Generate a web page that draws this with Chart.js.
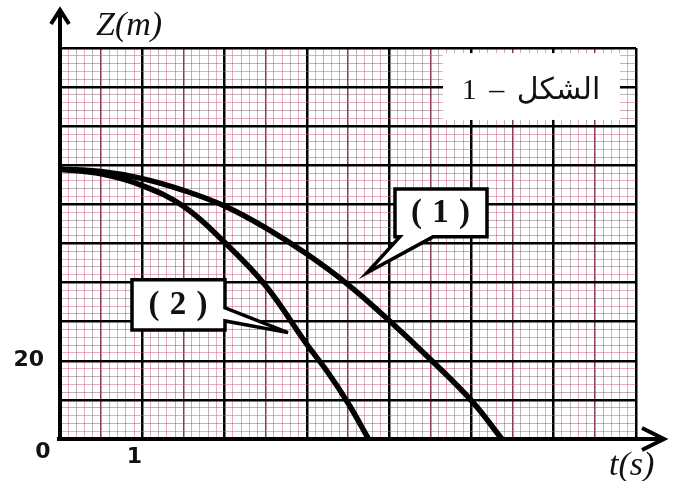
<!DOCTYPE html>
<html>
<head>
<meta charset="utf-8">
<script src="https://cdn.jsdelivr.net/npm/chart.js@4/dist/chart.umd.min.js"></script>
<style>
html,body{margin:0;padding:0;background:#fff;}
#wrap{width:673px;height:481px;}
</style>
</head>
<body>
<div id="wrap"><canvas id="c" width="673" height="481"></canvas></div>
<script>
// ---- data ----
const t1 = [0, 0.5, 1, 1.5, 2, 2.5, 3, 3.5, 4, 4.5, 5, 5.37];
const z1 = [69, 68.4, 66.6, 63.6, 59.6, 54, 47.3, 39.5, 30.3, 20.4, 9.8, 0];
const t2 = [0, 0.5, 1, 1.5, 2, 2.5, 3, 3.25, 3.5, 3.75];
const z2 = [69, 67.8, 64.8, 59.5, 50.3, 39.2, 24.2, 17.2, 9.2, 0];
const xTickLabels = [{v: 0, text: '0'}, {v: 1, text: '1'}];
const yTickLabels = [{v: 20, text: '20'}];
const curveLabels = ['( 1 )', '( 2 )'];
const figureTitle = 'الشكل – 1';
const xAxisTitle = 't(s)';
const yAxisTitle = 'Z(m)';
const xMax = 7, yMax = 100;

const pts = (ts, zs) => ts.map((t, i) => ({x: t, y: zs[i]}));

const PINK = 'rgba(210,90,120,0.5)';
const GREY = 'rgba(110,70,85,0.42)';
function xGridColor(ctx){
  const v = Math.round(ctx.tick.value * 10);
  if (v % 10 === 0) return '#000';
  if (v % 5 === 0) return 'rgba(120,25,45,0.85)';
  return (v % 2 === 0) ? GREY : PINK;
}
function xGridWidth(ctx){
  const v = Math.round(ctx.tick.value * 10);
  if (v % 10 === 0) return 2.5;
  if (v % 5 === 0) return 1.5;
  return 1;
}
function yGridColor(ctx){
  const v = Math.round(ctx.tick.value);
  if (v % 10 === 0) return '#000';
  return (v % 4 === 0) ? GREY : PINK;
}
function yGridWidth(ctx){
  const v = Math.round(ctx.tick.value);
  return (v % 10 === 0) ? 2.5 : 1;
}

const decor = {
  id: 'decor',
  beforeDraw(chart){
    const c = chart.ctx;
    c.save(); c.fillStyle = '#fff'; c.fillRect(0, 0, chart.width, chart.height); c.restore();
  },
  beforeDatasetsDraw(chart){
    const c = chart.ctx, xs = chart.scales.x, ys = chart.scales.y;
    const X = v => xs.getPixelForValue(v), Y = v => ys.getPixelForValue(v);
    c.save();
    c.fillStyle = '#fff';
    c.fillRect(X(4.654), Y(98.7), X(6.805) - X(4.654), Y(81.6) - Y(98.7));
    c.fillStyle = '#111';
    c.font = '30px "Liberation Serif", "DejaVu Sans", serif';
    c.direction = 'rtl';
    c.wordSpacing = '5px';
    c.textAlign = 'center';
    c.textBaseline = 'middle';
    c.fillText(figureTitle, X(5.724), Y(89.0));
    c.restore();
  },
  afterDatasetsDraw(chart){
    const c = chart.ctx, xs = chart.scales.x, ys = chart.scales.y;
    const X = v => xs.getPixelForValue(v), Y = v => ys.getPixelForValue(v);
    c.save();
    c.lineWidth = 3.5;
    c.strokeStyle = '#000';
    c.fillStyle = '#fff';
    c.lineJoin = 'miter';
    // callout (1)
    c.beginPath();
    c.moveTo(X(4.071), Y(63.97));
    c.lineTo(X(5.189), Y(63.97));
    c.lineTo(X(5.189), Y(51.7));
    c.lineTo(X(4.533), Y(51.7));
    c.lineTo(X(3.731), Y(42.5));
    c.lineTo(X(4.13), Y(51.7));
    c.lineTo(X(4.071), Y(51.7));
    c.closePath();
    c.fill(); c.stroke();
    // callout (2)
    c.beginPath();
    c.moveTo(X(0.875), Y(40.7));
    c.lineTo(X(2.005), Y(40.7));
    c.lineTo(X(2.005), Y(33.55));
    c.lineTo(X(2.771), Y(27.2));
    c.lineTo(X(2.005), Y(30.2));
    c.lineTo(X(2.005), Y(27.9));
    c.lineTo(X(0.875), Y(27.9));
    c.closePath();
    c.fill(); c.stroke();
    c.fillStyle = '#111';
    c.font = 'bold 33px "Liberation Serif", "Times New Roman", serif';
    c.letterSpacing = '1px';
    c.textAlign = 'center';
    c.textBaseline = 'middle';
    c.fillText(curveLabels[0], (X(4.071) + X(5.189)) / 2, (Y(63.97) + Y(51.7)) / 2 + 1);
    c.fillText(curveLabels[1], (X(0.875) + X(2.005)) / 2, (Y(40.7) + Y(27.9)) / 2 + 1);
    c.restore();
  },
  afterDraw(chart){
    const c = chart.ctx, a = chart.chartArea, xs = chart.scales.x, ys = chart.scales.y;
    const X = v => xs.getPixelForValue(v), Y = v => ys.getPixelForValue(v);
    c.save();
    c.strokeStyle = '#000';
    c.lineWidth = 4;
    c.lineCap = 'butt';
    // y axis
    c.beginPath();
    c.moveTo(a.left, a.bottom + 2);
    c.lineTo(a.left, a.top - 37);
    c.stroke();
    c.beginPath();
    c.moveTo(a.left - 9, a.top - 24);
    c.lineTo(a.left, a.top - 38);
    c.lineTo(a.left + 9, a.top - 24);
    c.stroke();
    // x axis
    c.beginPath();
    c.moveTo(a.left - 3, a.bottom);
    c.lineTo(a.right + 27, a.bottom);
    c.stroke();
    c.beginPath();
    c.moveTo(a.right + 6, a.bottom - 11);
    c.lineTo(a.right + 28, a.bottom);
    c.lineTo(a.right + 6, a.bottom + 11);
    c.stroke();
    // tick labels
    c.fillStyle = '#111';
    c.font = 'bold 22px "DejaVu Sans", sans-serif';
    c.textBaseline = 'alphabetic';
    c.textAlign = 'center';
    xTickLabels.forEach(tk => {
      if (tk.v === 0) c.fillText(tk.text, X(0) - 17, a.bottom + 19);
      else c.fillText(tk.text, X(tk.v) - 8, a.bottom + 24);
    });
    c.textAlign = 'right';
    yTickLabels.forEach(tk => c.fillText(tk.text, a.left - 16, Y(tk.v) + 5));
    // axis titles
    c.font = 'italic 34px "Liberation Serif", "Times New Roman", serif';
    c.textAlign = 'left';
    c.fillText(yAxisTitle, a.left + 36, a.top - 13);
    c.fillText(xAxisTitle, a.right - 27, a.bottom + 36);
    c.restore();
  }
};

new Chart(document.getElementById('c'), {
  type: 'line',
  data: {
    datasets: [
      {label: curveLabels[0], data: pts(t1, z1), borderColor: '#000', borderWidth: 5.5, pointRadius: 0, tension: 0.4, fill: false},
      {label: curveLabels[1], data: pts(t2, z2), borderColor: '#000', borderWidth: 5.5, pointRadius: 0, tension: 0.4, fill: false}
    ]
  },
  options: {
    responsive: false,
    animation: false,
    events: [],
    layout: {padding: {left: 60, right: 37, top: 48, bottom: 42}},
    plugins: {legend: {display: false}, tooltip: {enabled: false}, title: {display: false}},
    scales: {
      x: {
        type: 'linear', min: 0, max: xMax,
        ticks: {display: false, stepSize: 0.1, autoSkip: false},
        grid: {drawTicks: false, color: xGridColor, lineWidth: xGridWidth},
        border: {display: false}
      },
      y: {
        type: 'linear', min: 0, max: yMax,
        ticks: {display: false, stepSize: 2, autoSkip: false},
        grid: {drawTicks: false, color: yGridColor, lineWidth: yGridWidth},
        border: {display: false}
      }
    }
  },
  plugins: [decor]
});
</script>
</body>
</html>
